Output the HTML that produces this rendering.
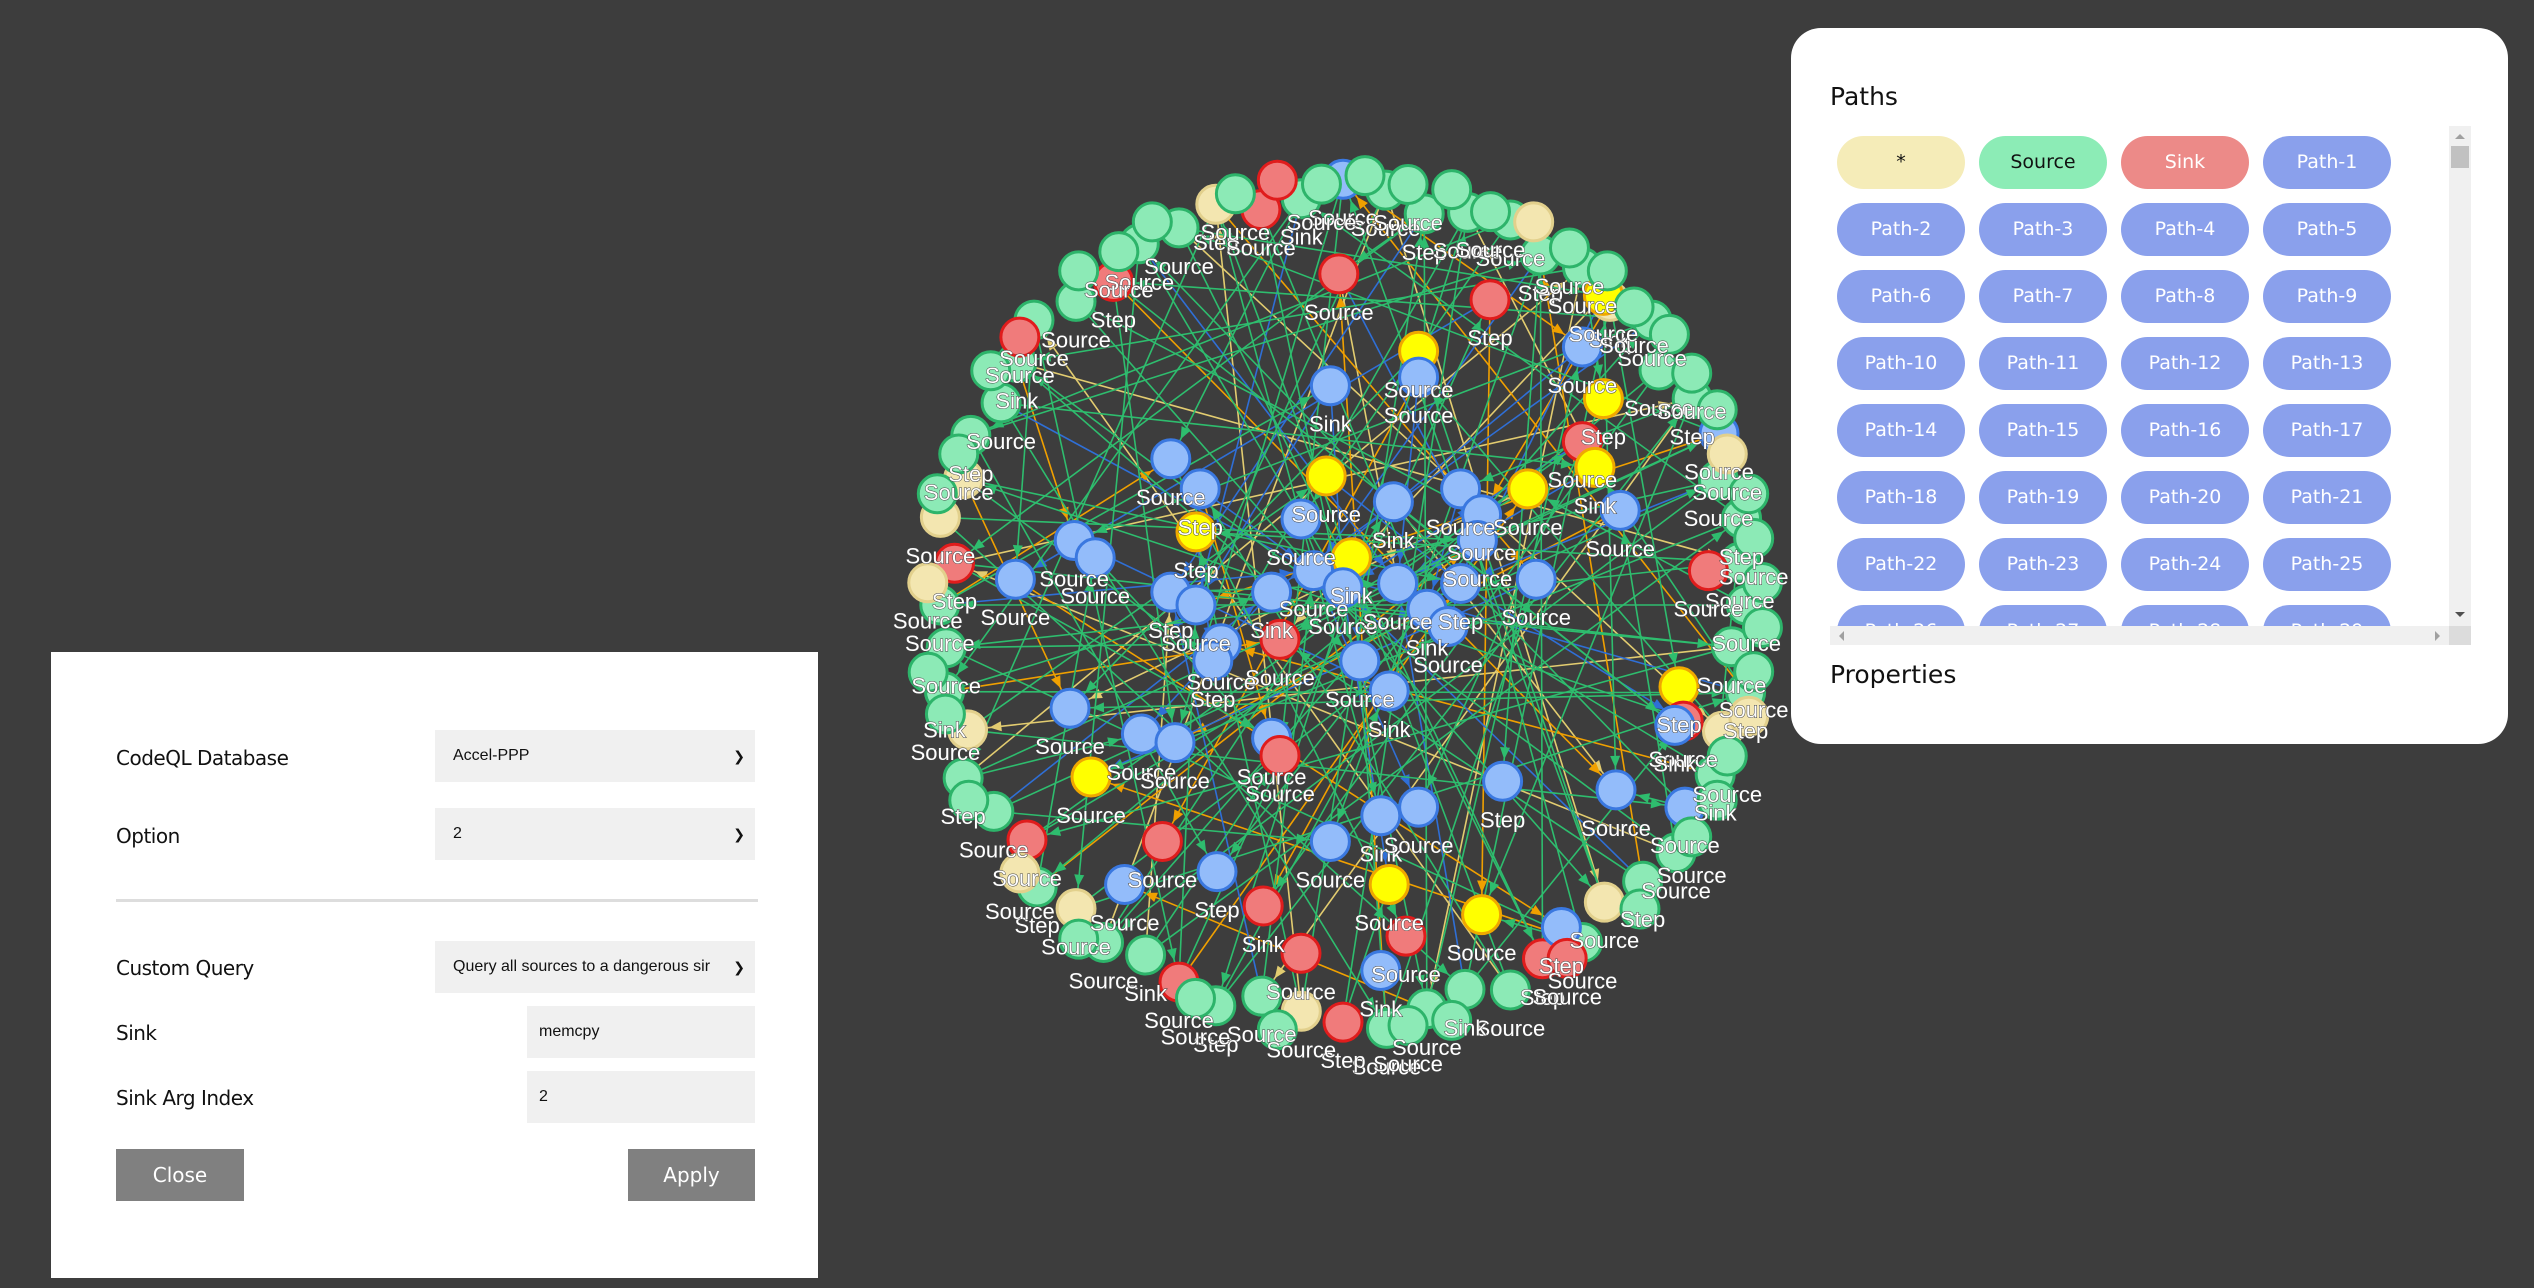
<!DOCTYPE html>
<html><head><meta charset="utf-8">
<style>
html,body{margin:0;padding:0;}
body{width:2534px;height:1288px;background:#3d3d3d;position:relative;overflow:hidden;font-family:"Liberation Sans","DejaVu Sans",sans-serif;}
#graph{position:absolute;left:0;top:0;}
.panel-left{position:absolute;left:51px;top:652px;width:767px;height:626px;background:#fff;}
.lbl{position:absolute;left:65px;font-size:20px;color:#111;font-family:"DejaVu Sans","Liberation Sans",sans-serif;letter-spacing:-0.5px;}
.sel{position:absolute;background:#f0f0f0;height:52px;font-size:16px;color:#111;box-sizing:border-box;padding-left:18px;line-height:52px;}
.sel .chev{position:absolute;right:10px;top:0;font-size:14px;}
.btn{position:absolute;top:497px;height:52px;background:#808080;color:#fff;font-size:20px;line-height:52px;text-align:center;font-family:"DejaVu Sans","Liberation Sans",sans-serif;}
.panel-right{position:absolute;left:1791px;top:28px;width:717px;height:716px;background:#fff;border-radius:30px;}
.h{position:absolute;left:39px;font-size:25px;color:#111;font-family:"DejaVu Sans","Liberation Sans",sans-serif;}
.scroll{position:absolute;left:39px;top:98px;width:641px;height:519px;background:#fff;}
.pills{position:absolute;left:0;top:0;width:619px;height:500px;overflow:hidden;}
.pill{position:absolute;width:128px;height:53px;border-radius:27px;background:#8aa0ec;color:#fff;font-size:19px;line-height:53px;text-align:center;font-family:"DejaVu Sans","Liberation Sans",sans-serif;}
.vbar{position:absolute;left:619px;top:0;width:22px;height:500px;background:#f0f0f0;}
.hbar{position:absolute;left:0;top:500px;width:619px;height:19px;background:#f0f0f0;}
.corner{position:absolute;left:619px;top:500px;width:22px;height:19px;background:#dcdcdc;}
</style></head>
<body>
<svg id="graph" width="2534" height="1288" xmlns="http://www.w3.org/2000/svg">
<defs>
<marker id="m-green" viewBox="0 0 12 10" refX="34" refY="5" markerWidth="12" markerHeight="10" markerUnits="userSpaceOnUse" orient="auto" overflow="visible"><path d="M0,0L12,5L0,10z" fill="#2ebd6e"/></marker>
<marker id="m-blue" viewBox="0 0 12 10" refX="34" refY="5" markerWidth="12" markerHeight="10" markerUnits="userSpaceOnUse" orient="auto" overflow="visible"><path d="M0,0L12,5L0,10z" fill="#2f6fd6"/></marker>
<marker id="m-orange" viewBox="0 0 12 10" refX="34" refY="5" markerWidth="12" markerHeight="10" markerUnits="userSpaceOnUse" orient="auto" overflow="visible"><path d="M0,0L12,5L0,10z" fill="#f0a000"/></marker>
<marker id="m-khaki" viewBox="0 0 12 10" refX="34" refY="5" markerWidth="12" markerHeight="10" markerUnits="userSpaceOnUse" orient="auto" overflow="visible"><path d="M0,0L12,5L0,10z" fill="#e2cc70"/></marker>
</defs>
<g id="edges"></g><g id="nodes"></g><g id="labels"></g>
</svg>

<div class="panel-left">
  <div class="lbl" style="top:94px">CodeQL Database</div>
  <div class="sel" style="left:384px;top:78px;width:320px">Accel-PPP<span class="chev">&#10095;</span></div>
  <div class="lbl" style="top:172px">Option</div>
  <div class="sel" style="left:384px;top:156px;width:320px">2<span class="chev">&#10095;</span></div>
  <div style="position:absolute;left:65px;top:247px;width:642px;height:3px;background:#ddd"></div>
  <div class="lbl" style="top:304px">Custom Query</div>
  <div class="sel" style="left:384px;top:289px;width:320px">Query all sources to a dangerous sir<span class="chev">&#10095;</span></div>
  <div class="lbl" style="top:369px">Sink</div>
  <div class="sel" style="left:476px;top:354px;width:228px;padding-left:12px">memcpy</div>
  <div class="lbl" style="top:434px">Sink Arg Index</div>
  <div class="sel" style="left:476px;top:419px;width:228px;padding-left:12px">2</div>
  <div class="btn" style="left:65px;width:128px">Close</div>
  <div class="btn" style="left:577px;width:127px">Apply</div>
</div>

<div class="panel-right">
  <div class="h" style="top:54px">Paths</div>
  <div class="scroll">
    <div class="pills" id="pills"></div>
    <div class="vbar">
      <div style="position:absolute;left:6px;top:8px;width:0;height:0;border-left:5px solid transparent;border-right:5px solid transparent;border-bottom:5px solid #a0a0a0"></div>
      <div style="position:absolute;left:2px;top:20px;width:18px;height:22px;background:#c1c1c1"></div>
      <div style="position:absolute;left:6px;top:486px;width:0;height:0;border-left:5px solid transparent;border-right:5px solid transparent;border-top:5px solid #505050"></div>
    </div>
    <div class="hbar">
      <div style="position:absolute;left:9px;top:5px;border-top:5px solid transparent;border-bottom:5px solid transparent;border-right:5px solid #a0a0a0"></div>
      <div style="position:absolute;left:605px;top:5px;border-top:5px solid transparent;border-bottom:5px solid transparent;border-left:5px solid #a0a0a0"></div>
    </div>
    <div class="corner"></div>
  </div>
  <div class="h" style="top:632px">Properties</div>
</div>

<script>
// ring nodes: angle (deg), type, radius fraction
const ringAngles=[0,6,12,18,24,30,36,42,48,54,60,66,72,78,84,90,96,102,108,114,120,126,132,138,144,150,156,162,168,174,180,186,192,198,204,210,216,222,228,234,240,246,252,258,264,270,276,282,288,294,300,306,312,318,324,330,336,342,348,354];
const ringTypes="gggcgbggcgrggggrcggrggcgrggcgggrccgggggrggcrgbggggggcgggbgggg".split("");
const ringRad=[0.96,0.93,0.98,0.95,0.97,0.94,0.98,0.96,0.93,0.97,0.95,0.98,0.94,0.96,0.99,0.97,0.95,0.93,0.98,0.96,0.94,0.97,0.95,0.98,0.93,0.96,0.99,0.94,0.97,0.95,0.96,0.93,0.98,0.95,0.97,0.94,0.96,0.99,0.95,0.93,0.97,0.96,0.98,0.94,0.95,0.99,0.97,0.93,0.96,0.98,0.94,0.97,0.95,0.99,0.93,0.96,0.98,0.94,0.97,0.95];
// second ring layer (denser outer band)
const ring2Angles=[3,9,15,21,27,33,45,57,75,81,99,111,129,141,153,165,171,183,195,201,213,219,231,237,243,255,261,267,273,279,285,291,297,303,309,315,321,327,333,339,345,351,357];
const ring2Types="ggcggggrgggggcgggcgggrggggrgggggcggggggcgggg".split("");
const ring2Rad=[1.0,0.99,1.0,0.98,1.0,0.99,1.0,0.98,1.0,0.99,1.0,0.98,1.0,0.99,1.0,0.98,1.0,0.99,1.0,0.98,1.0,0.99,1.0,0.98,1.0,0.99,1.0,0.98,1.0,0.99,1.0,0.98,1.0,0.99,1.0,0.98,1.0,0.99,1.0,0.98,1.0,0.99,1.0];
// interior nodes: type, x fraction, y fraction (of radius)
const innerTypes="rrybbybyryyybbbbbbbybybbbbbbbbbbbbbrbbbbbbbyrbybrbbbbbrbbryrybrbrbb".split("");
const innerX=[-0.01,0.35,0.18,-0.03,0.18,0.62,0.57,0.62,0.57,0.60,0.44,-0.04,-0.41,-0.34,0.28,0.12,0.33,0.66,-0.10,-0.35,0.32,0.02,-0.64,-0.59,-0.78,-0.41,-0.35,-0.17,-0.07,0.00,0.13,0.28,0.46,0.20,0.25,-0.15,-0.29,-0.31,0.04,0.11,-0.65,-0.48,-0.40,0.80,0.81,0.79,-0.60,-0.17,-0.15,0.38,0.65,0.09,0.18,-0.03,-0.43,-0.30,-0.52,-0.19,0.33,0.15,0.11,0.52,-0.10,0.09,0.87];
const innerY=[-0.77,-0.71,-0.59,-0.51,-0.53,-0.72,-0.60,-0.48,-0.38,-0.32,-0.27,-0.30,-0.34,-0.27,-0.27,-0.24,-0.21,-0.22,-0.20,-0.17,-0.15,-0.11,-0.15,-0.11,-0.06,-0.03,0.00,-0.03,-0.08,-0.04,-0.05,-0.05,-0.06,0.01,0.05,0.08,0.09,0.13,0.13,0.20,0.24,0.30,0.32,0.19,0.27,0.28,0.40,0.31,0.35,0.41,0.43,0.49,0.47,0.55,0.55,0.62,0.65,0.70,0.72,0.77,0.65,0.75,0.81,0.85,-0.08];
const ringLabels=["Source","Source","Step","Source","Sink","Source","Source","Step"];
const innerLabels=["Source","Step","Source","Sink","Source","Source"];
const greenEdges="0-70 1-85 2-100 3-64 4-90 5-110 6-77 7-95 8-62 9-118 10-81 11-73 12-104 13-66 14-92 15-120 16-79 17-88 18-99 19-61 20-108 21-75 22-94 23-83 24-68 25-113 26-101 27-71 28-87 29-96 30-63 31-107 32-80 33-91 34-115 35-69 36-98 37-84 38-76 39-105 40-89 41-65 42-111 43-93 44-72 45-102 46-86 47-60 48-97 49-78 50-109 51-67 52-103 53-82 54-117 55-74 56-95 57-88 58-106 59-79 0-30 3-33 5-40 8-45 10-50 12-52 15-48 18-55 20-58 22-2 25-57 27-5 29-9 32-12 35-14 37-19 40-22 42-26 44-28 47-31 49-34 51-36 53-39 56-41 58-44 1-24 6-36 11-42 16-47 21-53 26-56 31-1 38-8 43-13 48-18 54-23 59-29 62-100 65-110 70-95 75-105 80-115 85-90 67-112 72-119 78-98 83-108 2-69 9-74 14-81 19-86 24-91 33-97 39-102 45-108 50-113 55-118 4-58 13-47 28-2 34-50 41-10 57-21";
const blueEdges="60-80 61-84 63-86 66-88 68-89 69-90 71-91 74-93 76-94 79-97 81-98 82-99 87-101 88-112 89-120 91-104 92-106 47-85 50-88 53-87 2-88 7-89 12-90 17-85 44-86 25-87 30-88 35-89 40-90 57-91 63-89 64-90 65-91 73-88";
const orangeEdges="2-45 7-50 14-60 19-70 23-80 28-95 33-100 39-110 45-66 52-76 56-86 4-96 9-106 13-116 61-118 64-114 73-107 77-102 84-121 93-117 30-72 36-82 42-92";
const khakiEdges="1-27 6-31 11-37 16-42 21-46 26-51 31-55 36-59 41-3 46-8 51-13 55-17 60-90 65-95 70-100 75-110 20-85 48-77";
const pillNames=["*","Source","Sink"];for(let i=1;i<=29;i++)pillNames.push("Path-"+i);

const CX=1343,CY=605,RX=420,RY=430,NR=19;
const fills={g:["#8ceab6","#2db46a"],b:["#93bcfa","#3a78e0"],r:["#f07b7b","#e01c1c"],y:["#ffff00","#f0a800"],c:["#f3e6b0","#e2d08c"]};
const nodes=[];
ringAngles.forEach((a,i)=>{const t=a*Math.PI/180;nodes.push({x:CX+RX*ringRad[i]*Math.cos(t),y:CY+RY*ringRad[i]*Math.sin(t),t:ringTypes[i]||"g",l:ringLabels[i%ringLabels.length]});});
innerX.forEach((fx,i)=>{nodes.push({x:CX+RX*fx,y:CY+RY*innerY[i],t:innerTypes[i]||"b",l:innerLabels[i%innerLabels.length]});});
ring2Angles.forEach((a,i)=>{const t=a*Math.PI/180;nodes.push({x:CX+RX*ring2Rad[i]*Math.cos(t),y:CY+RY*ring2Rad[i]*Math.sin(t),t:ring2Types[i]||"g",l:(i%2?"Source":null)});});
const NS="http://www.w3.org/2000/svg";
const eg=document.getElementById("edges"),ng=document.getElementById("nodes"),lg=document.getElementById("labels");
function drawEdges(str,color,mk){str.split(" ").forEach(p=>{const [a,b]=p.split("-").map(Number);const A=nodes[a],B=nodes[b];if(!A||!B)return;
 const ln=document.createElementNS(NS,"line");
 
 
 ln.setAttribute("x1",A.x);ln.setAttribute("y1",A.y);ln.setAttribute("x2",B.x);ln.setAttribute("y2",B.y);
 ln.setAttribute("stroke",color);ln.setAttribute("stroke-width","1.6");ln.setAttribute("marker-end","url(#"+mk+")");eg.appendChild(ln);});}
drawEdges(khakiEdges,"#e2cc70","m-khaki");
drawEdges(orangeEdges,"#f0a000","m-orange");
drawEdges(blueEdges,"#2f6fd6","m-blue");
drawEdges(greenEdges,"#2ebd6e","m-green");
nodes.forEach((n,i)=>{const c=document.createElementNS(NS,"circle");
 
 
 c.setAttribute("cx",n.x);c.setAttribute("cy",n.y);c.setAttribute("r",NR);c.setAttribute("fill",fills[n.t][0]);c.setAttribute("stroke",fills[n.t][1]);c.setAttribute("stroke-width","3");ng.appendChild(c);
 if(!n.l||(n.t==="c"&&i%2))return;
 const tx=document.createElementNS(NS,"text");
 
 
 tx.setAttribute("x",n.x);tx.setAttribute("y",n.y+46);tx.setAttribute("text-anchor","middle");tx.setAttribute("font-size","22");tx.setAttribute("fill","#fff");tx.setAttribute("stroke","#444");tx.setAttribute("stroke-width","1");tx.setAttribute("paint-order","stroke");tx.setAttribute("font-family","Liberation Sans, sans-serif");tx.textContent=n.l;lg.appendChild(tx);});
const pc=document.getElementById("pills");
pillNames.forEach((nm,i)=>{const d=document.createElement("div");
 
 
 d.className="pill";d.style.left=(7+(i%4)*142)+"px";d.style.top=(10+Math.floor(i/4)*67)+"px";
 if(i===0){d.style.background="#f5ecb8";d.style.color="#111";}
 if(i===1){d.style.background="#8cecb6";d.style.color="#111";}
 if(i===2){d.style.background="#ec8a88";}
 d.textContent=nm;pc.appendChild(d);});
</script>
</body></html>
